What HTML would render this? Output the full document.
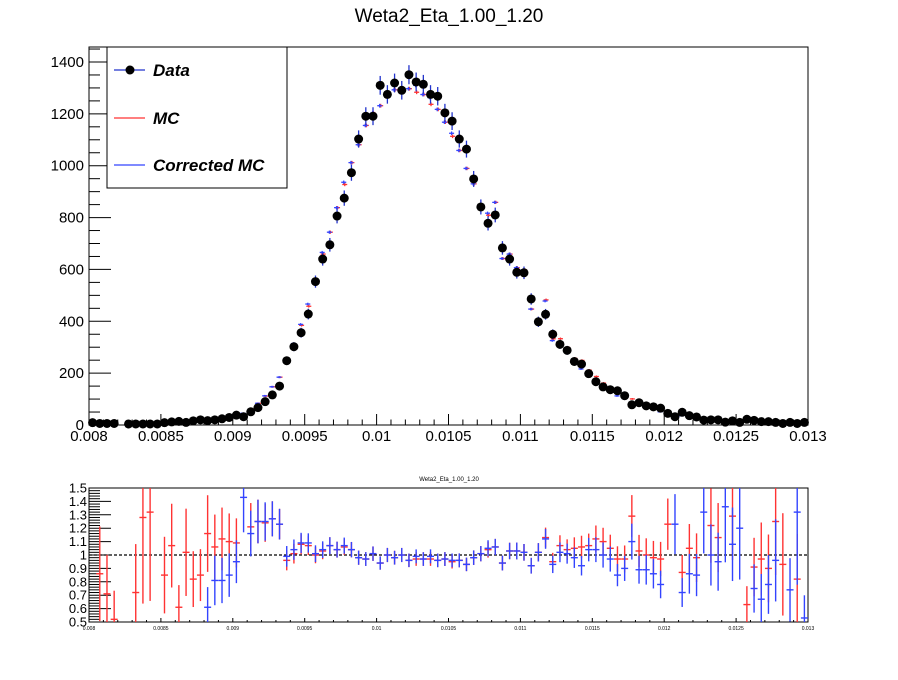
<!DOCTYPE html>
<html><head><meta charset="utf-8"><style>
body{margin:0;background:#fff;}
svg text{font-family:"Liberation Sans",Arial,sans-serif;}
</style></head><body>
<svg id="c" width="898" height="675" xmlns="http://www.w3.org/2000/svg">
<text x="449" y="22" font-size="19" text-anchor="middle">Weta2_Eta_1.00_1.20</text>
<rect x="89" y="47" width="719" height="378" fill="none" stroke="#000" stroke-width="1"/>
<g id="main"></g>
<g>
<rect x="107" y="47" width="180" height="141" fill="#fff" stroke="#000" stroke-width="1"/>
<g><line x1="114" y1="70" x2="145" y2="70" stroke="#2233cc" stroke-width="1.2"/><circle cx="130" cy="70" r="4.5" fill="#000"/><text x="153" y="76" font-size="17" font-weight="bold" font-style="italic">Data</text></g>
<g><line x1="114" y1="118" x2="145" y2="118" stroke="#ff3333" stroke-width="1.2"/><text x="153" y="124" font-size="17" font-weight="bold" font-style="italic">MC</text></g>
<g><line x1="114" y1="165" x2="145" y2="165" stroke="#3344ff" stroke-width="1.2"/><text x="153" y="171" font-size="17" font-weight="bold" font-style="italic">Corrected MC</text></g>
</g>
<text x="449" y="481" font-size="6" text-anchor="middle">Weta2_Eta_1.00_1.20</text>
<rect x="89" y="488" width="719" height="134" fill="none" stroke="#000" stroke-width="1"/>
<g id="ratio"></g>
</svg>
<script>
const xTicks=["0.008","0.0085","0.009","0.0095","0.01","0.0105","0.011","0.0115","0.012","0.0125","0.013"];
const yTicks=[0,200,400,600,800,1000,1200,1400];
const rTicks=["0.5","0.6","0.7","0.8","0.9","1","1.1","1.2","1.3","1.4","1.5"];
const dataVals=[9,6,6,6,0,4,4,4,4,4,9,12,14,10,16,20,17,20,24,29,38,32,51,67,90,116,150,248,302,356,428,553,640,695,806,875,973,1103,1191,1191,1310,1275,1319,1291,1351,1323,1314,1275,1268,1204,1172,1103,1064,949,841,778,810,683,640,589,587,486,398,427,350,311,288,245,235,198,167,147,136,132,113,78,86,74,70,65,45,32,49,36,31,19,20,20,11,16,10,22,18,13,13,10,6,10,6,10];
const ratioMC=[null,0.86,0.71,0.52,1.37,null,0.72,1.28,1.32,null,0.85,1.07,0.61,1.02,0.82,0.85,1.16,1.06,1.12,1.10,1.09,null,1.21,1.25,1.24,1.27,1.23,0.96,1.01,1.08,1.07,1.0,1.03,1.07,1.04,1.06,1.04,0.98,0.97,1.01,0.94,1.0,0.98,1.0,0.96,0.97,0.97,0.97,0.96,0.97,0.95,0.96,0.93,0.98,1.01,1.04,1.06,0.94,1.03,1.03,1.02,0.92,1.02,1.13,0.95,1.07,1.04,1.05,1.06,1.07,1.12,1.10,1.05,0.97,0.97,1.29,1.03,1.0,0.98,0.97,1.23,null,0.87,1.05,0.98,null,1.22,1.13,null,1.29,null,0.63,0.91,0.97,0.90,1.25,0.93,null,0.82,null];
const ratioCorr=[null,null,null,null,null,null,null,null,null,null,null,null,null,null,null,null,0.61,0.81,0.81,0.85,0.95,1.43,1.16,1.25,1.25,1.27,1.23,0.99,1.04,1.09,1.09,1.01,1.04,1.07,1.04,1.07,1.04,0.98,0.97,1.01,0.94,1.0,0.98,1.0,0.96,0.99,0.97,0.99,0.96,0.97,0.96,0.96,0.93,0.98,1.01,1.05,1.06,0.94,1.03,1.03,1.02,0.92,1.02,1.12,0.93,1.02,1.01,0.98,0.92,1.04,1.04,1.0,0.97,0.85,0.90,1.10,0.89,0.89,0.86,0.78,null,1.23,0.72,0.86,0.85,1.32,1.0,0.95,1.36,1.08,1.2,null,0.75,0.67,0.78,0.96,null,0.74,1.32,0.53];
const NS="http://www.w3.org/2000/svg";
const X0=89,X1=808,xmin=0.008,xmax=0.013,nb=dataVals.length,bw=(xmax-xmin)/nb;
function sx(v){return X0+(v-xmin)/(xmax-xmin)*(X1-X0);}
function sy(v){return 425-v/1400*363;}
function ry(v){return 622-(v-0.5)*134;}
function el(p,tag,a){const e=document.createElementNS(NS,tag);for(const k in a)e.setAttribute(k,a[k]);p.appendChild(e);return e;}
const main=document.getElementById('main'),rat=document.getElementById('ratio');
for(let k=0;k<=50;k++){const v=xmin+k*0.0001,x=sx(v),maj=k%5==0;
 const t=el(main,'line',{x1:x,x2:x,y1:425,y2:425-(maj?11:5.5),stroke:'#000'});
 
 const t2=el(rat,'line',{x1:x,x2:x,y1:622,y2:622-(maj?4:2),stroke:'#000'});
 }
xTicks.forEach((s,i)=>{const x=sx(xmin+i*0.0005);
 const t=el(main,'text',{x:x,y:441,'font-size':15,'text-anchor':'middle'});t.textContent=s;
 
 const t2=el(rat,'text',{x:x,y:630,'font-size':5,'text-anchor':'middle'});t2.textContent=s;
 });
for(let v=0;v<=1450;v+=50){const y=sy(v);if(y<47)break;const maj=v%200==0;
 const t=el(main,'line',{x1:89,x2:89+(maj?22:11),y1:y,y2:y,stroke:'#000'});
 }
yTicks.forEach(v=>{const t=el(main,'text',{x:84,y:sy(v)+5,'font-size':15,'text-anchor':'end'});t.textContent=v;
 });
for(let k=0;k<=50;k++){const v=0.5+k*0.02,y=ry(v),maj=k%5==0;
 const t=el(rat,'line',{x1:89,x2:89+(maj?22:11),y1:y,y2:y,stroke:'#000'});
 }
rTicks.forEach(s=>{const t=el(rat,'text',{x:87,y:ry(parseFloat(s))+4.5,'font-size':13,'text-anchor':'end'});t.textContent=s;
 });
const dl=el(rat,'line',{x1:89,x2:808,y1:ry(1),y2:ry(1),stroke:'#000','stroke-dasharray':'3,2','stroke-width':1.2});

function clipY(y,a,b){return Math.max(a,Math.min(b,y));}
[[ratioMC,'#ff3333',1],[ratioCorr,'#3344ff',-1]].forEach(([r,col,off],si)=>{
 dataVals.forEach((d,i)=>{const mc=(r[i]?d*r[i]:d);if(mc<=0)return;const x=sx(xmin+(i+0.5)*bw)+off*0.5,y=sy(mc),e=Math.sqrt(mc)*0.15*363/1400;
  const g=el(main,'g',{stroke:col,'stroke-width':1.3});
  
  
  el(g,'line',{x1:x-2.5,x2:x+2.5,y1:y,y2:y});el(g,'line',{x1:x,x2:x,y1:y-e-0.5,y2:y+e+0.5});});
 r.forEach((v,i)=>{if(v==null)return;const d=dataVals[i];if(d<=0)return;const x=sx(xmin+(i+0.5)*bw);
  const err=v*Math.sqrt(1/d+0.002);const y=ry(v);
  const g=el(rat,'g',{stroke:col,'stroke-width':1.4});
  
  
  if(v>=0.5&&v<=1.5)el(g,'line',{x1:x-3.5,x2:x+3.5,y1:y,y2:y});
  el(g,'line',{x1:x,x2:x,y1:clipY(ry(v+err),488,622),y2:clipY(ry(v-err),488,622)});});
});
dataVals.forEach((d,i)=>{if(d<=0)return;const x=sx(xmin+(i+0.5)*bw),y=sy(d),e=Math.sqrt(d)*363/1400;
 const g=el(main,'g',{});
 
 
 el(g,'line',{x1:x,x2:x,y1:y-e,y2:y+e,stroke:'#2233cc','stroke-width':1.3});
 el(g,'circle',{cx:x,cy:y,r:4.5,fill:'#000'});});
</script>
</body></html>
